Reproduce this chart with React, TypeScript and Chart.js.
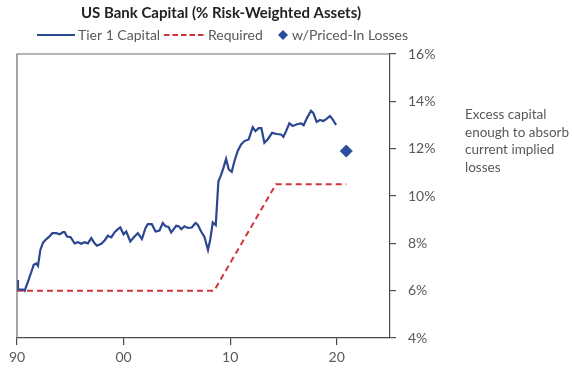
import React, { useEffect, useRef } from "react";
import { Chart, registerables } from "chart.js";
Chart.register(...registerables);

const titleText = "US Bank Capital (% Risk-Weighted Assets)";
const legendLabels = ["Tier 1 Capital", "Required", "w/Priced-In Losses"];
const annotationLines = ["Excess capital", "enough to absorb", "current implied", "losses"];

const tier1Years = [
  1990.0, 1990.09, 1990.56, 1990.72, 1991.03, 1991.35, 1991.57, 1991.82, 1991.97, 1992.19,
  1992.44, 1992.76, 1993.0, 1993.32, 1993.69, 1994.0, 1994.31, 1994.47, 1994.69, 1995.03,
  1995.41, 1995.72, 1996.04, 1996.34, 1996.65, 1996.97, 1997.28, 1997.5, 1997.91, 1998.22,
  1998.53, 1998.85, 1999.16, 1999.47, 1999.69, 2000.0, 2000.25, 2000.63, 2001.03, 2001.34,
  2001.72, 2002.06, 2002.28, 2002.65, 2003.0, 2003.37, 2003.68, 2003.94, 2004.22, 2004.47,
  2004.94, 2005.18, 2005.41, 2005.72, 2006.03, 2006.4, 2006.75, 2006.96, 2007.28, 2007.59,
  2007.92, 2008.13, 2008.37, 2008.65, 2008.9, 2009.16, 2009.37, 2009.62, 2009.87, 2010.15,
  2010.4, 2010.71, 2011.03, 2011.34, 2011.74, 2012.12, 2012.37, 2012.68, 2012.93, 2013.21,
  2013.52, 2013.94, 2014.37, 2014.78, 2015.0, 2015.25, 2015.56, 2015.87, 2016.28, 2016.65,
  2016.9, 2017.18, 2017.59, 2017.81, 2018.12, 2018.43, 2018.74, 2018.99, 2019.37, 2019.62,
  2019.94,
];
const tier1Values = [
  6.45, 6.05, 6.05, 6.0, 6.38, 6.8, 7.09, 7.15, 7.05, 7.72,
  8.03, 8.18, 8.27, 8.43, 8.43, 8.38, 8.47, 8.47, 8.29, 8.26,
  8.0, 8.05, 7.98, 8.05, 8.0, 8.22, 8.0, 7.9, 7.98, 8.12,
  8.32, 8.25, 8.47, 8.6, 8.67, 8.38, 8.5, 8.08, 8.29, 8.43,
  8.18, 8.65, 8.81, 8.81, 8.5, 8.54, 8.86, 8.72, 8.69, 8.46,
  8.74, 8.72, 8.6, 8.72, 8.65, 8.67, 8.86, 8.79, 8.5, 8.27,
  7.72, 8.15, 8.88, 8.77, 10.62, 10.9, 11.19, 11.57, 11.12, 11.02,
  11.47, 11.9, 12.18, 12.32, 12.39, 12.91, 12.74, 12.87, 12.87, 12.25,
  12.39, 12.67, 12.62, 12.6, 12.5, 12.74, 13.07, 12.96, 13.03, 13.07,
  12.99, 13.27, 13.6, 13.5, 13.13, 13.21, 13.17, 13.24, 13.38, 13.24,
  13.0,
];

const requiredYears = [1990, 2008.5, 2014.3, 2020.9];
const requiredValues = [6, 6, 10.5, 10.5];

const pricedInYears = [2020.9];
const pricedInValues = [11.9];

const xTickValues = [1990, 2000, 2010, 2020];
const xTickLabels = ["90", "00", "10", "20"];
const xMin = 1990;
const xMax = 2025;
const yMin = 4;
const yMax = 16;
const yStep = 2;

const BLUE = "#2c4791";
const RED = "#d2343f";
const DIAMOND = "#2b4ba0";
const AXIS = "#4a4a4a";
const TEXT = "#595959";
const FONT = "Lato, 'Open Sans', sans-serif";

const decorPlugin = {
  id: "decor",
  afterDraw(chart: any) {
    const ctx = chart.ctx as CanvasRenderingContext2D;
    const { left, top, right, bottom } = chart.chartArea;
    ctx.save();
    // left and top frame
    ctx.strokeStyle = "#6a6a6a";
    ctx.lineWidth = 1.2;
    ctx.setLineDash([]);
    ctx.beginPath();
    ctx.moveTo(left, bottom);
    ctx.lineTo(left, top);
    ctx.lineTo(right, top);
    ctx.stroke();

    // title
    ctx.fillStyle = "#222";
    ctx.font = `bold 15px ${FONT}`;
    ctx.textAlign = "center";
    ctx.textBaseline = "middle";
    ctx.fillText(titleText, 221, 13);

    // legend
    const ly = 35;
    ctx.font = `14px ${FONT}`;
    ctx.textAlign = "left";
    ctx.fillStyle = TEXT;
    // Tier 1
    ctx.strokeStyle = BLUE;
    ctx.lineWidth = 2;
    ctx.beginPath();
    ctx.moveTo(37, ly);
    ctx.lineTo(75, ly);
    ctx.stroke();
    ctx.fillText(legendLabels[0], 78, ly);
    // Required
    ctx.strokeStyle = RED;
    ctx.setLineDash([5.5, 3]);
    ctx.beginPath();
    ctx.moveTo(164, ly);
    ctx.lineTo(204, ly);
    ctx.stroke();
    ctx.setLineDash([]);
    ctx.fillText(legendLabels[1], 208, ly);
    // diamond
    ctx.fillStyle = DIAMOND;
    ctx.beginPath();
    ctx.moveTo(283, ly - 5);
    ctx.lineTo(288, ly);
    ctx.lineTo(283, ly + 5);
    ctx.lineTo(278, ly);
    ctx.closePath();
    ctx.fill();
    ctx.fillStyle = TEXT;
    ctx.fillText(legendLabels[2], 292, ly);

    // annotation
    ctx.font = `13.5px ${FONT}`;
    annotationLines.forEach((t, i) => {
      ctx.fillText(t, 465, 115 + i * 17.5);
    });
    ctx.restore();
  },
};

export default function App() {
  const ref = useRef<HTMLCanvasElement | null>(null);
  useEffect(() => {
    if (!ref.current) return;
    const chart = new Chart(ref.current, {
      type: "line",
      data: {
        datasets: [
          {
            label: legendLabels[0],
            data: tier1Years.map((x, i) => ({ x, y: tier1Values[i] })),
            borderColor: BLUE,
            borderWidth: 2.2,
            pointRadius: 0,
            tension: 0,
            fill: false,
          },
          {
            label: legendLabels[1],
            data: requiredYears.map((x, i) => ({ x, y: requiredValues[i] })),
            borderColor: RED,
            borderWidth: 2,
            borderDash: [6, 4],
            pointRadius: 0,
            tension: 0,
            fill: false,
          },
          {
            label: legendLabels[2],
            data: pricedInYears.map((x, i) => ({ x, y: pricedInValues[i] })),
            showLine: false,
            pointStyle: "rectRot",
            pointRadius: 6,
            pointBackgroundColor: DIAMOND,
            pointBorderColor: DIAMOND,
            borderColor: DIAMOND,
            backgroundColor: DIAMOND,
          },
        ],
      },
      options: {
        animation: false,
        responsive: true,
        maintainAspectRatio: false,
        layout: { padding: { left: 17, top: 54, right: 0, bottom: 0 } },
        plugins: {
          legend: { display: false },
          title: { display: false },
          tooltip: { enabled: false },
        },
        scales: {
          x: {
            type: "linear",
            min: xMin,
            max: xMax,
            afterBuildTicks: (scale: any) => {
              scale.ticks = xTickValues.map((v) => ({ value: v }));
            },
            afterFit: (scale: any) => {
              scale.height = 30;
            },
            ticks: {
              autoSkip: false,
              maxRotation: 0,
              padding: 4,
              color: TEXT,
              font: { family: FONT, size: 14 },
              callback: (v: any) => {
                const i = xTickValues.indexOf(Number(v));
                return i >= 0 ? xTickLabels[i] : "";
              },
            },
            grid: {
              display: true,
              drawOnChartArea: false,
              drawTicks: true,
              tickLength: 7,
              color: AXIS,
              lineWidth: 1.2,
            },
            border: { display: true, color: AXIS, width: 1.2 },
          },
          y: {
            type: "linear",
            position: "right",
            min: yMin,
            max: yMax,
            afterFit: (scale: any) => {
              scale.width = 184;
            },
            ticks: {
              stepSize: yStep,
              padding: 12,
              color: TEXT,
              font: { family: FONT, size: 14 },
              callback: (v: any) => `${v}%`,
            },
            grid: {
              display: true,
              drawOnChartArea: false,
              drawTicks: true,
              tickLength: 6,
              color: AXIS,
              lineWidth: 1.2,
            },
            border: { display: true, color: AXIS, width: 1.2 },
          },
        },
      },
      plugins: [decorPlugin],
    });
    return () => chart.destroy();
  }, []);
  return (
    <div style={{ position: "absolute", left: 0, top: 0, width: 574, height: 368, background: "#fff" }}>
      <canvas ref={ref} />
    </div>
  );
}
